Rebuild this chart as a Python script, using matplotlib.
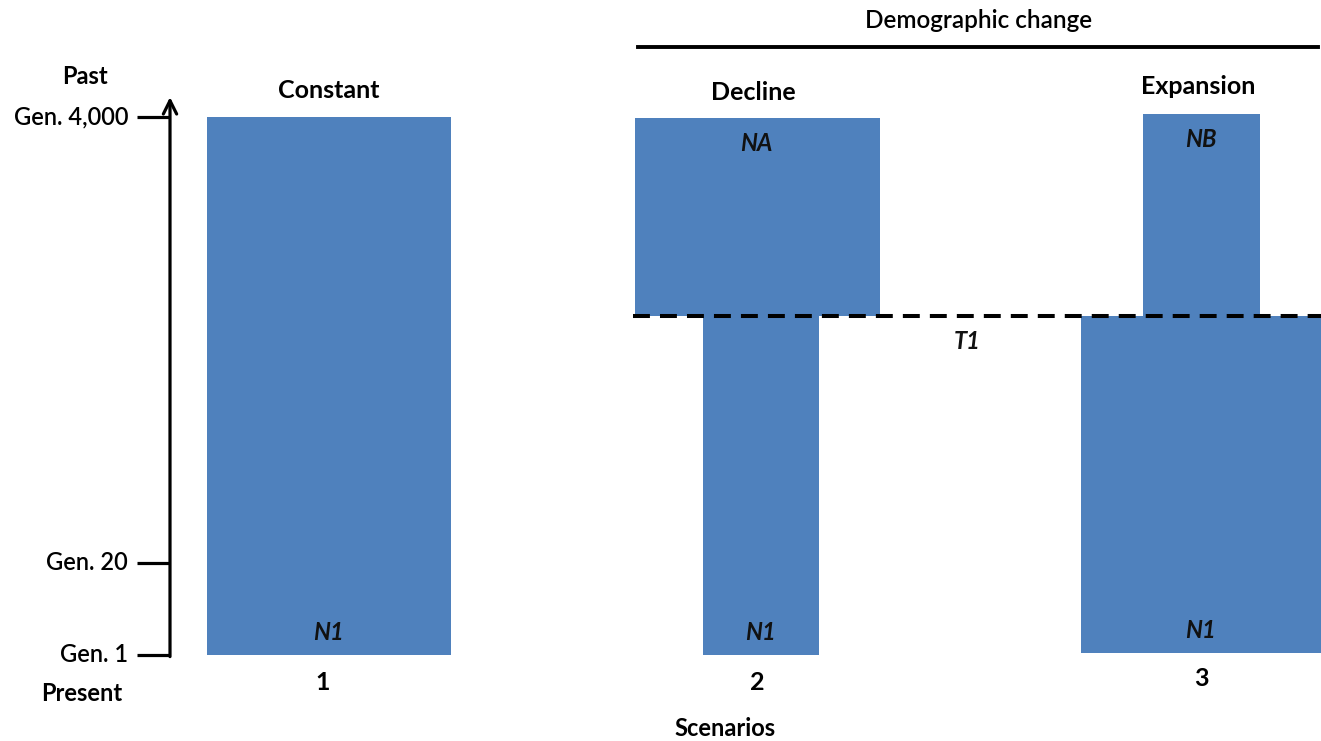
import matplotlib
matplotlib.use('Agg')
import matplotlib.pyplot as plt

plt.rcParams['font.family'] = ['Lato', 'DejaVu Sans']

# scenario columns
scenario_ids = ['1', '2', '3']
scenario_titles = ['Constant', 'Decline', 'Expansion']
scenario_x = [323, 757, 1201]

# population blocks: time runs 0 (present, Gen. 1) to 1 (past, Gen. 4,000)
seg_x = [329, 761, 757.5, 1201, 1201.5]
seg_width = [244, 116, 245, 240, 117]
seg_bottom = [0.0, 0.0, 0.630, 0.004, 0.630]
seg_top = [1.0, 0.630, 0.998, 0.630, 1.006]
seg_label = ['N1', 'N1', 'NA', 'N1', 'NB']

t1 = 0.630
gen_ticks = [0.0, 0.171, 1.0]
gen_labels = ['Gen. 1', 'Gen. 20', 'Gen. 4,000']

blue = '#4F81BD'

fig = plt.figure(figsize=(13.21, 7.41), dpi=100)
ax = fig.add_axes([0, 0, 1, 1])
ax.set_xlim(0, 1321)
ax.set_ylim(-0.1599, 1.2175)
ax.axis('off')

# blocks
for x, w, b, t, lab in zip(seg_x, seg_width, seg_bottom, seg_top, seg_label):
    ax.bar(x, t - b, bottom=b, width=w, color=blue, zorder=1)
    ly = b + 0.041 if lab == 'N1' else t - 0.048
    ax.text(x - 1, ly, lab, ha='center', va='center', fontsize=17,
            fontstyle='italic', fontweight='bold', color='#111111', zorder=3)

# scenario titles and numbers
title_x = [329, 753, 1198]
title_y = [1.050, 1.046, 1.056]
num_y = [-0.052, -0.052, -0.043]
for x, tx, tt, n, ty, ny in zip(scenario_x, title_x, scenario_titles, scenario_ids, title_y, num_y):
    ax.text(tx, ty, tt, ha='center', va='center', fontsize=18, fontweight='bold')
    ax.text(x, ny, n, ha='center', va='center', fontsize=18, fontweight='bold')

# T1 dashed line
ax.plot([633, 1321], [t1, t1], color='black', lw=2.9, ls=(0, (4.2, 2.5)), zorder=2)
ax.text(967, t1 - 0.048, 'T1', ha='center', va='center', fontsize=17,
        fontstyle='italic', fontweight='bold', color='#111111')

# demographic change bracket
ax.plot([638, 1318], [1.130, 1.130], color='black', lw=2.8)
ax.text(979, 1.180, 'Demographic change', ha='center', va='center', fontsize=17.5,
        fontweight='semibold')

# time axis
ax.annotate('', xy=(170, 1.037), xytext=(170, -0.003),
            arrowprops=dict(arrowstyle='->', lw=2.3, color='black',
                            mutation_scale=24, shrinkA=0, shrinkB=0))
for g, lab in zip(gen_ticks, gen_labels):
    ax.plot([137, 170], [g, g], color='black', lw=2.3, solid_capstyle='butt')
    ax.text(128, g, lab, ha='right', va='center', fontsize=17, fontweight='semibold')
ax.text(85, 1.076, 'Past', ha='center', va='center', fontsize=17, fontweight='bold')
ax.text(82, -0.071, 'Present', ha='center', va='center', fontsize=17, fontweight='bold')

ax.text(725, -0.136, 'Scenarios', ha='center', va='center', fontsize=17, fontweight='bold')

fig.savefig('out.png', dpi=100)
